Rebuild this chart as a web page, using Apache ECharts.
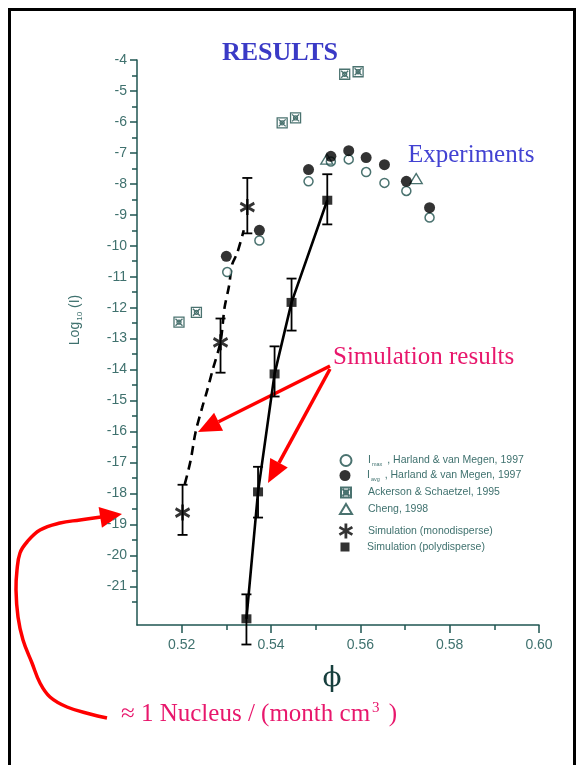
<!DOCTYPE html>
<html>
<head>
<meta charset="utf-8">
<script src="https://cdn.jsdelivr.net/npm/echarts@6/dist/echarts.min.js"></script>
<style>
  html, body { margin: 0; padding: 0; background: #fff; }
  #chart { width: 577px; height: 765px; }
</style>
</head>
<body>
<div id="chart"></div>
<script>
// Tick positions
const xMajorTicks = [0.52, 0.54, 0.56, 0.58, 0.60];
const xMinorTicks = [0.53, 0.55, 0.57, 0.59];
const yMajorTicks = [-4, -5, -6, -7, -8, -9, -10, -11, -12, -13, -14, -15, -16, -17, -18, -19, -20, -21];
const yMinorTicks = [-4.5, -5.5, -6.5, -7.5, -8.5, -9.5, -10.5, -11.5, -12.5, -13.5, -14.5, -15.5, -16.5, -17.5, -18.5, -19.5, -20.5, -21.5];

// Experiments: Harland & van Megen (I_max, I_avg), Ackerson & Schaetzel, Cheng
const imaxPhi = [0.5302, 0.5374, 0.5484, 0.5534, 0.5574, 0.5613, 0.5654, 0.5703, 0.5755];
const imaxLog = [-10.85, -9.83, -7.92, -7.28, -7.21, -7.62, -7.97, -8.23, -9.09];
const iavgPhi = [0.5300, 0.5374, 0.5484, 0.5534, 0.5574, 0.5613, 0.5654, 0.5703, 0.5755];
const iavgLog = [-10.34, -9.50, -7.54, -7.11, -6.93, -7.15, -7.38, -7.92, -8.77];
const ackPhi = [0.5194, 0.5233, 0.5425, 0.5455, 0.5565, 0.5595];
const ackLog = [-12.47, -12.15, -6.03, -5.87, -4.46, -4.38];
const chengPhi = [0.5525, 0.5725];
const chengLog = [-7.20, -7.83];

// Simulation, monodisperse (with error bars and dashed guide curve)
const monoPhi = [0.5202, 0.5287, 0.5347];
const monoLog = [-18.62, -13.12, -8.75];
const monoLow = [-19.34, -14.10, -9.60];
const monoHigh = [-17.72, -12.35, -7.81];
const monoCurvePhi = [0.5207, 0.5220, 0.5231, 0.5246, 0.5257, 0.5269, 0.5287, 0.5296, 0.5306, 0.5313, 0.5324, 0.5339];
const monoCurveLog = [-17.70, -16.94, -16.03, -15.22, -14.68, -14.03, -13.10, -12.00, -11.30, -10.60, -10.25, -9.50];

// Simulation, polydisperse
const polyPhi = [0.5345, 0.5371, 0.5408, 0.5446, 0.5526];
const polyLog = [-22.05, -17.95, -14.14, -11.83, -8.53];
const polyLow = [-22.88, -18.78, -14.87, -12.74, -9.31];
const polyHigh = [-21.26, -17.14, -13.25, -11.06, -7.69];

const NAME_MAX = 'Imax , Harland & van Megen, 1997';
const NAME_AVG = 'Iavg , Harland & van Megen, 1997';
const NAME_ACK = 'Ackerson & Schaetzel, 1995';
const NAME_CHENG = 'Cheng, 1998';
const NAME_MONO = 'Simulation (monodisperse)';
const NAME_POLY = 'Simulation (polydisperse)';

const zip = (a, b) => a.map((v, i) => [v, b[i]]);

const AXIS = '#1f5551';
const LABEL = '#3f716e';
const MARK = '#1d4f4b';

const STAR = 'path://M0,-10L0,10M-8.66,-5L8.66,5M-8.66,5L8.66,-5';
const XSQUARE = 'path://M0,0L10,0L10,10L0,10Z M1.5,1.5L8.5,8.5 M8.5,1.5L1.5,8.5 M7,5A2,2 0 1 1 3,5A2,2 0 1 1 7,5';

function errorBars(name, phi, low, high) {
  return {
    type: 'custom',
    name: name + ' err',
    z: 3,
    clip: false,
    data: phi.map((p, i) => [p, low[i], high[i]]),
    encode: { x: 0, y: [1, 2] },
    renderItem: function (params, api) {
      const top = api.coord([api.value(0), api.value(2)]);
      const bot = api.coord([api.value(0), api.value(1)]);
      const hw = 5;
      const st = { stroke: '#000', lineWidth: 1.8 };
      return {
        type: 'group',
        children: [
          { type: 'line', shape: { x1: top[0], y1: top[1], x2: bot[0], y2: bot[1] }, style: st },
          { type: 'line', shape: { x1: top[0] - hw, y1: top[1], x2: top[0] + hw, y2: top[1] }, style: st },
          { type: 'line', shape: { x1: bot[0] - hw, y1: bot[1], x2: bot[0] + hw, y2: bot[1] }, style: st }
        ]
      };
    }
  };
}

function arrowHead(tip, from, len, hw) {
  const dx = tip[0] - from[0], dy = tip[1] - from[1];
  const L = Math.hypot(dx, dy);
  const ux = dx / L, uy = dy / L;
  const bx = tip[0] - ux * len, by = tip[1] - uy * len;
  return {
    base: [bx, by],
    points: [tip, [bx - uy * hw, by + ux * hw], [bx + uy * hw, by - ux * hw]]
  };
}

// Legend: one row per entry so each key sits at its own height
const legendRows = [
  { name: NAME_MAX, cy: 461, w: 11, h: 11 },
  { name: NAME_AVG, cy: 477, w: 11, h: 11 },
  { name: NAME_ACK, cy: 493.5, w: 10, h: 10 },
  { name: NAME_CHENG, cy: 510, w: 12, h: 10 },
  { name: NAME_MONO, cy: 529, w: 14, h: 15, itemStyle: { borderWidth: 2.8 } },
  { name: NAME_POLY, cy: 548.5, w: 9, h: 9 }
];
const ICON_X = 345, TEXT_X = 367;
const legendText = {
  color: LABEL, fontFamily: 'Liberation Sans', fontSize: 10.5,
  rich: {}
};
const legends = legendRows.map(row => {
  const pad = TEXT_X - (ICON_X + row.w / 2 + 5);
  return {
    orient: 'vertical',
    left: ICON_X - row.w / 2,
    top: row.cy - 7,
    padding: 0,
    itemWidth: row.w, itemHeight: row.h,
    selectedMode: false,
    data: [row.itemStyle ? { name: row.name, itemStyle: row.itemStyle } : row.name],
    formatter: function (name) {
      if (name === NAME_MAX) return '{f|I}{s|max}{t| , Harland & van Megen, 1997}';
      if (name === NAME_AVG) return '{f|I}{s|avg}{t| , Harland & van Megen, 1997}';
      return '{f|' + name + '}';
    },
    textStyle: {
      color: LABEL, fontFamily: 'Liberation Sans', fontSize: 10.5,
      rich: {
        f: { color: LABEL, fontFamily: 'Liberation Sans', fontSize: 10.5, padding: [0, 0, 0, pad] },
        t: { color: LABEL, fontFamily: 'Liberation Sans', fontSize: 10.5 },
        s: { color: LABEL, fontFamily: 'Liberation Sans', fontSize: 5.5, padding: [8, 2, 0, 1] }
      }
    }
  };
});

const chart = echarts.init(document.getElementById('chart'), null, { renderer: 'canvas' });

const gridPos = { left: 137, right: 38, top: 60, bottom: 140 };
const xRange = { min: 0.51, max: 0.60 };
const yRange = { min: -22.25, max: -4 };

const option = {
  backgroundColor: '#fff',
  animation: false,
  grid: gridPos,
  xAxis: [
    {
      type: 'value', ...xRange, position: 'bottom',
      axisLine: { show: true, onZero: false, lineStyle: { color: AXIS, width: 1.5 } },
      axisTick: { show: true, customValues: xMajorTicks, length: 8, lineStyle: { color: AXIS, width: 1.5 } },
      axisLabel: { show: true, customValues: xMajorTicks, margin: 13, color: LABEL, fontFamily: 'Liberation Sans', fontSize: 14,
        formatter: v => v.toFixed(2) },
      splitLine: { show: false }
    },
    {
      type: 'value', ...xRange, position: 'bottom', gridIndex: 0,
      axisLine: { show: false, onZero: false },
      axisTick: { show: true, customValues: xMinorTicks, length: 5, lineStyle: { color: AXIS, width: 1.5 } },
      axisLabel: { show: false },
      splitLine: { show: false }
    }
  ],
  yAxis: [
    {
      type: 'value', ...yRange, position: 'left',
      axisLine: { show: true, onZero: false, lineStyle: { color: AXIS, width: 1.5 } },
      axisTick: { show: true, customValues: yMajorTicks, length: 7, lineStyle: { color: AXIS, width: 1.5 } },
      axisLabel: { show: true, customValues: yMajorTicks, margin: 10, color: LABEL, fontFamily: 'Liberation Sans', fontSize: 14,
        formatter: v => String(v) },
      splitLine: { show: false }
    },
    {
      type: 'value', ...yRange, position: 'left',
      axisLine: { show: false, onZero: false },
      axisTick: { show: true, customValues: yMinorTicks, length: 5, lineStyle: { color: AXIS, width: 1.5 } },
      axisLabel: { show: false },
      splitLine: { show: false }
    }
  ],
  legend: legends,
  series: [
    // guide curves
    {
      type: 'line', name: 'mono curve', data: zip(monoCurvePhi, monoCurveLog),
      showSymbol: false, smooth: 0.3, z: 2, silent: true,
      lineStyle: { color: '#000', width: 2.6, type: [9, 6] }
    },
    {
      type: 'line', name: 'poly curve', data: zip(polyPhi, polyLog),
      showSymbol: false, z: 2, silent: true,
      lineStyle: { color: '#000', width: 2.6 }
    },
    errorBars(NAME_MONO, monoPhi, monoLow, monoHigh),
    errorBars(NAME_POLY, polyPhi, polyLow, polyHigh),
    {
      type: 'scatter', name: NAME_MAX, data: zip(imaxPhi, imaxLog), z: 4,
      symbol: 'circle', symbolSize: 9,
      itemStyle: { color: '#fff', borderColor: MARK, borderWidth: 1.5 }
    },
    {
      type: 'scatter', name: NAME_AVG, data: zip(iavgPhi, iavgLog), z: 5,
      symbol: 'circle', symbolSize: 11,
      itemStyle: { color: '#000' }
    },
    {
      type: 'scatter', name: NAME_ACK, data: zip(ackPhi, ackLog), z: 4,
      symbol: XSQUARE, symbolSize: 10,
      itemStyle: { color: 'rgba(0,0,0,0)', borderColor: MARK, borderWidth: 1.3 }
    },
    {
      type: 'scatter', name: NAME_CHENG, data: zip(chengPhi, chengLog), z: 4,
      symbol: 'triangle', symbolSize: [12, 10],
      itemStyle: { color: 'rgba(255,255,255,0)', borderColor: MARK, borderWidth: 1.4 }
    },
    {
      type: 'scatter', name: NAME_MONO, data: zip(monoPhi, monoLog), z: 6,
      symbol: STAR, symbolSize: [14, 16],
      itemStyle: { color: 'rgba(0,0,0,0)', borderColor: '#000', borderWidth: 2.8 }
    },
    {
      type: 'scatter', name: NAME_POLY, data: zip(polyPhi, polyLog), z: 6,
      symbol: 'rect', symbolSize: [10, 9],
      itemStyle: { color: '#000' }
    }
  ]
};

// Annotations: arrows and captions
const RED = '#ff0000';
const PINK = '#e8176c';
const BLUE = '#3a3ac6';

const a1From = [330, 366], a1Tip = [198, 432];
const a2From = [330, 369], a2Tip = [268, 483];
const h1 = arrowHead(a1Tip, a1From, 23, 10);
const h2 = arrowHead(a2Tip, a2From, 23, 10);
const curvePts = [[107, 718], [90, 714], [67, 707], [50, 697], [40, 683], [32, 663], [23, 640], [18, 617],
  [16, 590], [17, 570], [20, 553], [27, 542], [40, 530], [60, 523], [80, 520], [101, 517]];
const h3 = arrowHead([122, 514], [100, 517.5], 22, 10.5);

option.graphic = [
  { type: 'rect', shape: { x: 9.5, y: 9.5, width: 565, height: 800 }, style: { fill: 'none', stroke: '#000', lineWidth: 3 }, silent: true },
  { type: 'text', x: 280, y: 53, style: { text: 'RESULTS', fill: BLUE, font: 'bold 26px "Liberation Serif"', textAlign: 'center', textVerticalAlign: 'middle' } },
  { type: 'text', x: 408, y: 155, style: { text: 'Experiments', fill: '#4242d2', font: '25px "Liberation Serif"', textAlign: 'left', textVerticalAlign: 'middle' } },
  { type: 'text', x: 333, y: 357, style: { text: 'Simulation results', fill: PINK, font: '25px "Liberation Serif"', textAlign: 'left', textVerticalAlign: 'middle' } },
  { type: 'text', x: 121, y: 714, style: {
      text: '{a|≈ 1 Nucleus / (month cm}{s|3}{a| )}', textAlign: 'left', textVerticalAlign: 'middle',
      rich: {
        a: { fill: PINK, color: PINK, fontFamily: 'Liberation Serif', fontSize: 25 },
        s: { fill: PINK, color: PINK, fontFamily: 'Liberation Serif', fontSize: 15, padding: [0, 3, 12, 2] }
      } } },
  { type: 'text', x: 332, y: 679, style: { text: '\u03D5', fill: '#173f3d', font: '28px "DejaVu Serif"', textAlign: 'center', textVerticalAlign: 'middle' } },
  { type: 'text', x: 75, y: 320, rotation: Math.PI / 2, style: {
      text: '{a|Log}{s|10}{a| (I)}', textAlign: 'center', textVerticalAlign: 'middle',
      rich: {
        a: { fill: LABEL, color: LABEL, fontFamily: 'Liberation Sans', fontSize: 14 },
        s: { fill: LABEL, color: LABEL, fontFamily: 'Liberation Sans', fontSize: 8, padding: [9, 0, 0, 1] }
      } } },
  { type: 'line', shape: { x1: a1From[0], y1: a1From[1], x2: h1.base[0], y2: h1.base[1] }, style: { stroke: RED, lineWidth: 3.5 } },
  { type: 'polygon', shape: { points: h1.points }, style: { fill: RED } },
  { type: 'line', shape: { x1: a2From[0], y1: a2From[1], x2: h2.base[0], y2: h2.base[1] }, style: { stroke: RED, lineWidth: 3.5 } },
  { type: 'polygon', shape: { points: h2.points }, style: { fill: RED } },
  { type: 'polyline', shape: { points: curvePts, smooth: 0.4 }, style: { stroke: RED, lineWidth: 3.5, fill: 'none' } },
  { type: 'polygon', shape: { points: h3.points }, style: { fill: RED } }
];

chart.setOption(option);
</script>
</body>
</html>
